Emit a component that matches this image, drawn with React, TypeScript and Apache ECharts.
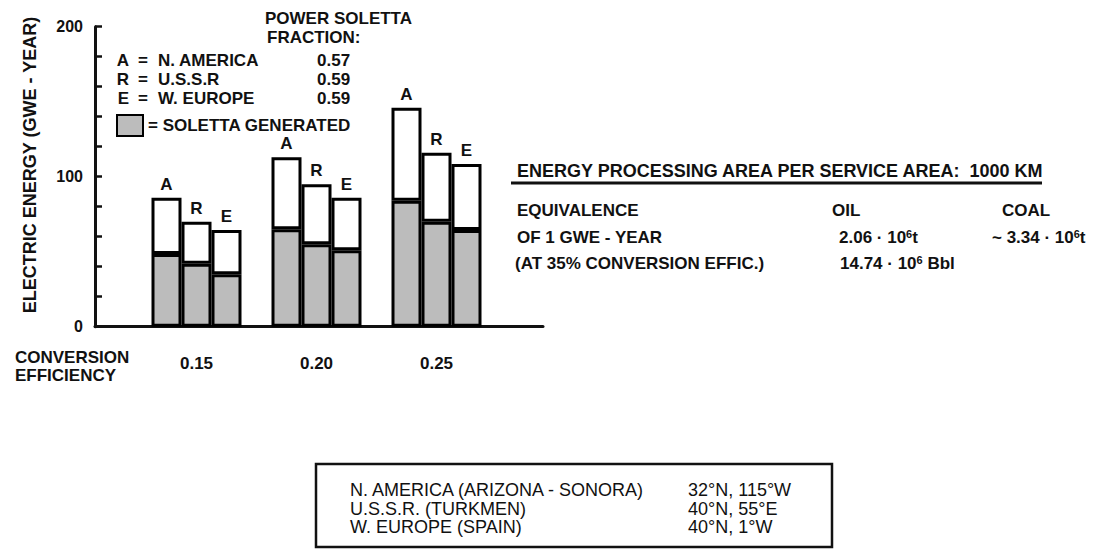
import React, { useEffect, useRef } from "react";
import * as echarts from "echarts";

const efficiencies = ["0.15", "0.20", "0.25"];
const regionLetters = ["A", "R", "E"];
const regionNames = ["N. AMERICA", "U.S.S.R", "W. EUROPE"];
const fractions = ["0.57", "0.59", "0.59"];
const totalA = [86, 113, 146];
const totalR = [70, 95, 116];
const totalE = [64.5, 86, 108.5];
const solettaA = [48.5, 65, 84];
const solettaR = [42, 55, 70];
const solettaE = [35, 51, 64.5];
const yTickLabels = [0, 100, 200];
const siteNames = ["N. AMERICA (ARIZONA - SONORA)", "U.S.S.R. (TURKMEN)", "W. EUROPE (SPAIN)"];
const siteCoords = ["32°N, 115°W", "40°N, 55°E", "40°N, 1°W"];

const FONT = "'Liberation Sans', Arial, sans-serif";
const GRAY = "#bcbcbc";

export default function App() {
  const ref = useRef<HTMLDivElement>(null);
  useEffect(() => {
    const chart = echarts.init(ref.current!, null, { renderer: "svg" });
    const totals = [totalA, totalR, totalE];
    const solettas = [solettaA, solettaR, solettaE];
    const series: any[] = [];
    regionLetters.forEach((letter, i) => {
      series.push({
        name: "SOLETTA GENERATED",
        type: "bar",
        stack: letter,
        xAxisIndex: 1,
        yAxisIndex: 1,
        barWidth: 30,
        barGap: "0%",
        data: solettas[i],
        itemStyle: { color: GRAY, borderColor: "#000", borderWidth: 3 },
      });
      series.push({
        name: regionNames[i],
        type: "bar",
        stack: letter,
        xAxisIndex: 1,
        yAxisIndex: 1,
        barWidth: 30,
        barGap: "0%",
        data: totals[i].map((t, k) => t - solettas[i][k]),
        itemStyle: { color: "#fff", borderColor: "#000", borderWidth: 3 },
        label: {
          show: true,
          position: "top",
          distance: 5,
          formatter: () => letter,
          fontFamily: FONT,
          fontWeight: "bold",
          fontSize: 17,
          color: "#111",
        },
      });
    });

    const txt = (text: string, x: number, y: number, extra: any = {}) => ({
      type: "text",
      x,
      y,
      style: {
        text,
        fontFamily: FONT,
        fontWeight: "bold",
        fontSize: 17,
        fill: "#111",
        verticalAlign: "middle",
        ...extra,
      },
    });
    const richSup = {
      sup: { fontSize: 11, fontWeight: "bold", fontFamily: FONT, verticalAlign: "top", fill: "#111" },
    };

    const graphics: any[] = [
      {
        type: "text",
        x: 30,
        y: 165,
        rotation: Math.PI / 2,
        style: {
          text: "ELECTRIC ENERGY (GWE - YEAR)",
          fontFamily: FONT,
          fontWeight: "bold",
          fontSize: 18,
          fill: "#111",
          align: "center",
          verticalAlign: "middle",
        },
      },
      txt("POWER SOLETTA", 265, 18),
      txt("FRACTION:", 267, 37),
      txt("CONVERSION", 15, 357),
      txt("EFFICIENCY", 15, 375),
      txt("ENERGY PROCESSING AREA PER SERVICE AREA:  1000 KM", 517, 171, { fontSize: 18 }),
      { type: "line", shape: { x1: 511, y1: 183, x2: 1042, y2: 183 }, style: { stroke: "#111", lineWidth: 3 } },
      txt("EQUIVALENCE", 517, 210),
      txt("OIL", 832, 210),
      txt("COAL", 1002, 210),
      txt("OF 1 GWE - YEAR", 517, 237),
      txt("2.06 · 10{sup|6}t", 839, 237, { rich: richSup }),
      txt("~ 3.34 · 10{sup|6}t", 992, 237, { rich: richSup }),
      txt("(AT 35% CONVERSION EFFIC.)", 515, 263),
      txt("14.74 · 10{sup|6} Bbl", 840, 263, { rich: richSup }),
      {
        type: "rect",
        shape: { x: 316, y: 464, width: 516, height: 83 },
        style: { fill: "none", stroke: "#111", lineWidth: 2.5 },
      },
    ];
    regionLetters.forEach((letter, i) => {
      const y = 60 + i * 19;
      graphics.push(txt(letter, 129, y, { align: "right" }));
      graphics.push(txt("=", 143, y, { align: "center" }));
      graphics.push(txt(regionNames[i], 158, y));
      graphics.push(txt(fractions[i], 317, y));
    });
    siteNames.forEach((name, i) => {
      const y = 490 + i * 18.5;
      graphics.push(txt(name, 350, y, { fontWeight: "normal", fontSize: 18 }));
      graphics.push(txt(siteCoords[i], 688, y, { fontWeight: "normal", fontSize: 18 }));
    });

    chart.setOption({
      animation: false,
      backgroundColor: "#fff",
      grid: [
        { left: 95, right: 576, top: 26.7, bottom: 222.3, outerBoundsMode: "none" },
        { left: 136.5, right: 622.5, top: 26.7, bottom: 222.3, outerBoundsMode: "none" },
      ],
      legend: {
        data: ["SOLETTA GENERATED"],
        left: 111,
        top: 109,
        icon: "rect",
        itemWidth: 26,
        itemHeight: 21,
        formatter: "= {name}",
        textStyle: { fontFamily: FONT, fontWeight: "bold", fontSize: 17, color: "#111" },
        selectedMode: false,
      },
      xAxis: [
        {
          type: "value",
          gridIndex: 0,
          min: 0,
          max: 1,
          axisLine: { show: true, lineStyle: { color: "#111", width: 3 } },
          axisTick: { show: false },
          splitLine: { show: false },
          axisLabel: { show: false },
        },
        {
          type: "category",
          gridIndex: 1,
          data: efficiencies,
          axisLine: { show: false },
          axisTick: { show: false },
          axisLabel: {
            margin: 28,
            fontFamily: FONT,
            fontWeight: "bold",
            fontSize: 17,
            color: "#111",
          },
        },
      ],
      yAxis: [
        {
          type: "value",
          gridIndex: 0,
          min: 0,
          max: 200,
          interval: 20,
          axisLine: { show: true, lineStyle: { color: "#111", width: 3 } },
          axisTick: { show: true, inside: true, length: 7, lineStyle: { color: "#111", width: 2.5 } },
          splitLine: { show: false },
          axisLabel: {
            formatter: (v: number) => (yTickLabels.includes(v) ? String(v) : ""),
            margin: 12,
            fontFamily: FONT,
            fontWeight: "bold",
            fontSize: 16,
            color: "#111",
          },
        },
        {
          type: "value",
          gridIndex: 1,
          min: 0,
          max: 200,
          show: false,
        },
      ],
      series,
      graphic: graphics,
    });
    return () => chart.dispose();
  }, []);
  return (
    <div
      ref={ref}
      style={{ position: "fixed", left: 0, top: 0, width: 1119, height: 549, background: "#fff" }}
    />
  );
}
